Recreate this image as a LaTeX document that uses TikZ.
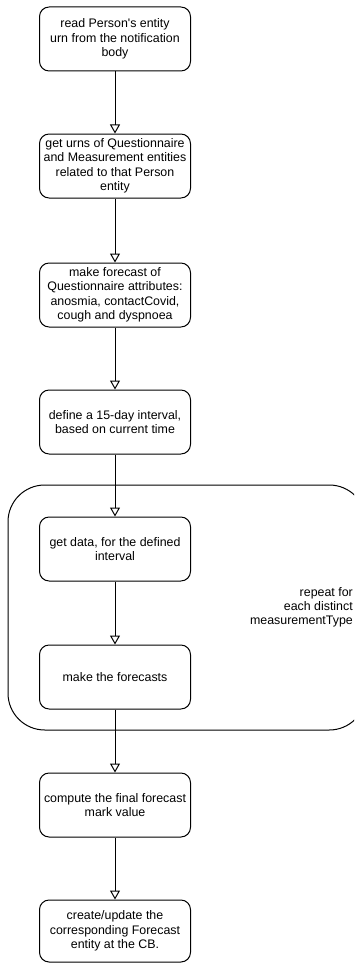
\documentclass[tikz,border=0pt]{standalone}
\usepackage{fontspec}
\setmainfont{Liberation Sans}
\usetikzlibrary{arrows.meta}

\tikzset{
  stepbox/.style={draw=black, line width=1pt, fill=white, rounded corners=9.6pt,
    minimum width=151pt, minimum height=64pt, inner sep=0pt, align=center,
    font=\fontsize{12.4}{14.5}\selectfont},
  loopbox/.style={draw=black, line width=1pt, rounded corners=36.75pt,
    minimum width=358pt, minimum height=245pt, inner sep=0pt},
  looptext/.style={align=right, inner sep=0pt, font=\fontsize{12.4}{14.2}\selectfont},
  flow/.style={draw=black, line width=1pt,
    -{Triangle[open, width=10pt, length=9pt, line width=1pt]}},
}

\begin{document}
\begin{tikzpicture}[x=1pt, y=-1pt]
  \useasboundingbox (0,0) rectangle (354,963);
  \clip (0,0) rectangle (354,963);

  % loop container for the per-measurementType steps
  \node[loopbox] (loop) at (187,607.5) {};
  \node[looptext, anchor=east] (looplabel) at (353,607) {repeat for\\each distinct\\measurementType};

  % processing steps
  \node[stepbox] (b1) at (115,39)  {read Person\textquotesingle s entity\\urn from the notification\\body};
  \node[stepbox] (b2) at (115,166) {get urns of Questionnaire\\and Measurement entities\\related to that Person\\entity};
  \node[stepbox] (b3) at (115,295) {make forecast of\\Questionnaire attributes:\\anosmia, contactCovid,\\cough and dyspnoea};
  \node[stepbox] (b4) at (115,422) {define a 15-day interval,\\based on current time};
  \node[stepbox] (b5) at (115,549) {get data, for the defined\\interval};
  \node[stepbox] (b6) at (115,677) {make the forecasts};
  \node[stepbox] (b7) at (115,805) {compute the final forecast\\mark value};
  \node[stepbox, minimum height=62pt] (b8) at (115,931) {create/update the\\corresponding Forecast\\entity at the CB.};

  % connectors
  \draw[flow] (b1) -- (b2);
  \draw[flow] (b2) -- (b3);
  \draw[flow] (b3) -- (b4);
  \draw[flow] (b4) -- (b5);
  \draw[flow] (b5) -- (b6);
  \draw[flow] (b6) -- (b7);
  \draw[flow] (b7) -- (b8);
\end{tikzpicture}
\end{document}
